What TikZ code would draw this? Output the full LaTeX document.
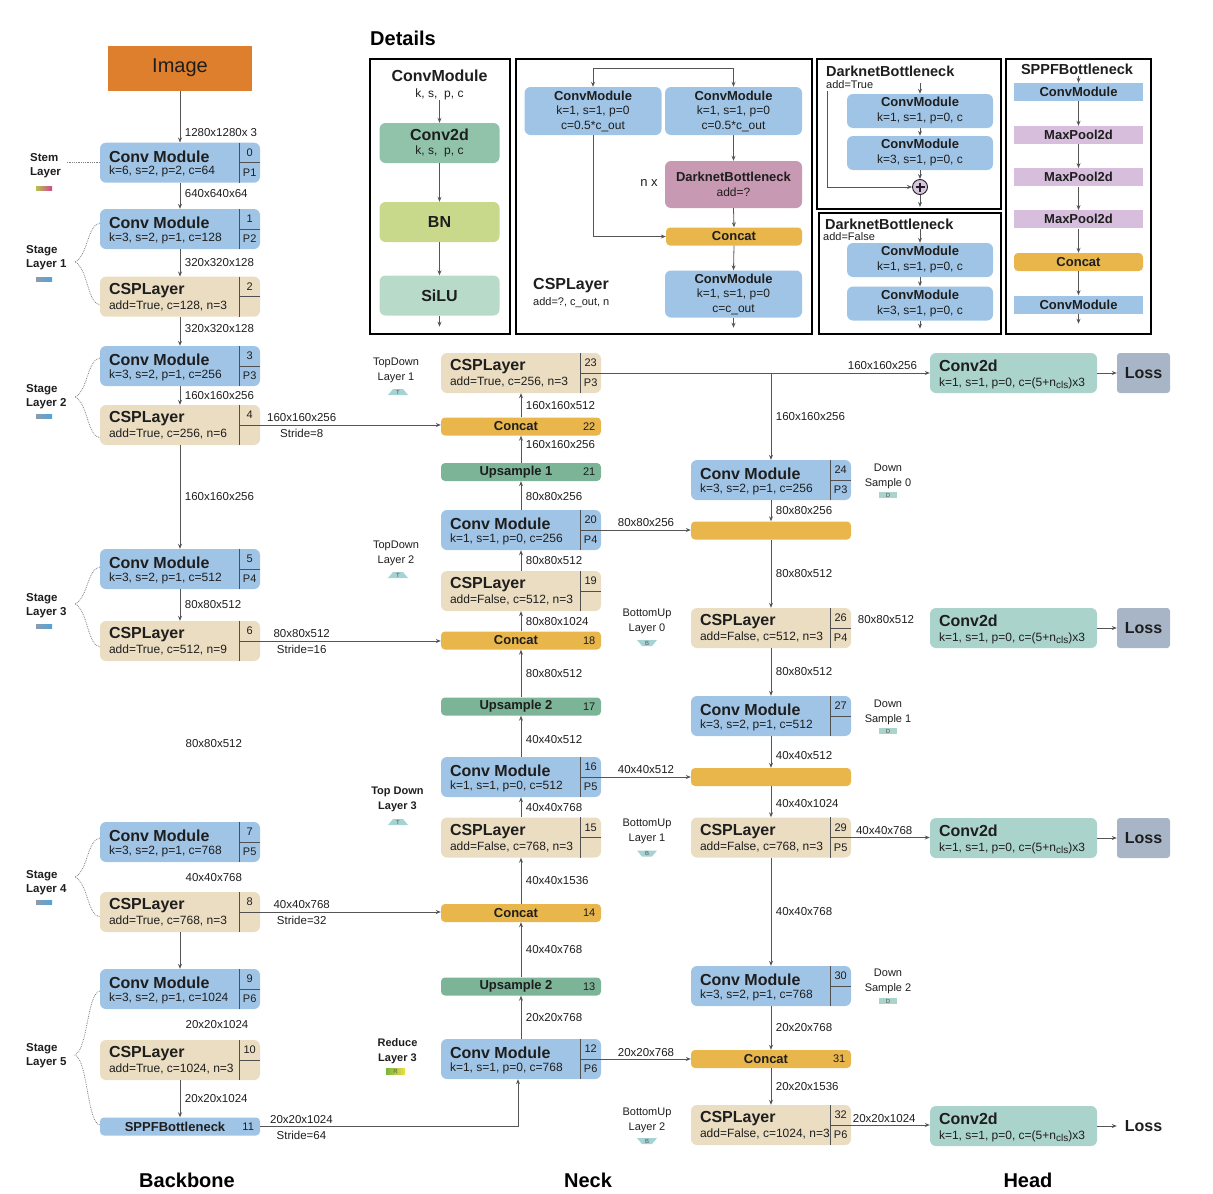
\documentclass[tikz,border=0pt]{standalone}
\usepackage{fontspec}
\setmainfont{Liberation Sans}
\usepackage{tikz}
\usetikzlibrary{positioning,calc,arrows.meta,shapes}

\definecolor{convblue}{RGB}{160,196,230}
\definecolor{cspbeige}{RGB}{235,221,193}
\definecolor{concatorange}{RGB}{233,182,76}
\definecolor{upgreen}{RGB}{124,180,152}
\definecolor{headteal}{RGB}{170,211,204}
\definecolor{lossgray}{RGB}{167,181,199}
\definecolor{imgorange}{RGB}{221,127,44}
\definecolor{dconvgreen}{RGB}{145,195,171}
\definecolor{bnyellow}{RGB}{200,217,140}
\definecolor{silugreen}{RGB}{184,218,201}
\definecolor{darkpink}{RGB}{200,153,179}
\definecolor{poolpurple}{RGB}{215,190,221}
\definecolor{pluspurple}{RGB}{216,196,224}
\definecolor{tagteal}{RGB}{165,210,210}
\definecolor{linegray}{RGB}{85,85,85}
\definecolor{cellgray}{RGB}{80,80,80}
\definecolor{txt}{RGB}{30,30,30}
\definecolor{barleft}{RGB}{140,155,175}
\definecolor{barright}{RGB}{80,165,220}
\definecolor{stemleft}{RGB}{180,195,80}
\definecolor{stemright}{RGB}{212,70,140}
\definecolor{redleft}{RGB}{120,180,60}
\definecolor{redright}{RGB}{235,225,70}

\tikzset{
  arr/.style={-{Stealth[length=5pt,width=4pt]}, line width=0.8pt, draw=linegray},
  wire/.style={line width=0.8pt, draw=linegray},
  cellline/.style={line width=0.9pt, draw=cellgray},
  blk/.style={rounded corners=6pt, minimum width=160pt, minimum height=40pt, inner sep=0pt},
  convblk/.style={blk, fill=convblue},
  cspblk/.style={blk, fill=cspbeige},
  barblk/.style={rounded corners=4pt, minimum width=160pt, minimum height=18pt, inner sep=0pt},
  headblk/.style={blk, fill=headteal, minimum width=167pt},
  lossblk/.style={rounded corners=3pt, fill=lossgray, minimum width=53pt, minimum height=40pt, inner sep=0pt, font=\bfseries\fontsize{16}{18}\selectfont, text=txt},
  imgblk/.style={fill=imgorange, minimum width=144pt, minimum height=45pt, inner sep=0pt, font=\fontsize{20}{24}\selectfont, text=txt},
  dblk/.style={rounded corners=6pt, minimum width=120pt, minimum height=40pt, inner sep=0pt},
  dmod/.style={rounded corners=6pt, fill=convblue, minimum width=137pt, minimum height=48pt, inner sep=0pt, align=center, font=\fontsize{12}{14.5}\selectfont, text=txt},
  dsmall/.style={dmod, minimum width=146pt, minimum height=34pt, font=\fontsize{12}{15}\selectfont},
  dbar/.style={rounded corners=4pt, fill=concatorange, minimum width=136pt, minimum height=18pt, inner sep=0pt, font=\bfseries\fontsize{13}{15}\selectfont, text=txt},
  spblk/.style={minimum width=129pt, minimum height=18pt, inner sep=0pt, font=\bfseries\fontsize{13}{15}\selectfont, text=txt},
  blktitle/.style={font=\bfseries\fontsize{16}{18}\selectfont, text=txt, inner sep=0pt},
  blkparam/.style={font=\fontsize{12}{14}\selectfont, text=txt, inner sep=0pt},
  blkidx/.style={font=\fontsize{11}{13}\selectfont, text=txt, inner sep=0pt},
  dimlbl/.style={font=\fontsize{11.5}{13}\selectfont, text=txt, inner sep=2.5pt},
  vlbl/.style={dimlbl, right, xshift=2pt},
  stridelbl/.style={dimlbl, below, yshift=-1.5pt},
  bartxt/.style={font=\bfseries\fontsize{13}{15}\selectfont, text=txt, inner sep=0pt},
  notetxt/.style={font=\fontsize{11}{15}\selectfont, text=txt, align=center, inner sep=0pt},
  boldnote/.style={notetxt, font=\bfseries\fontsize{11}{15}\selectfont},
  stagetxt/.style={font=\bfseries\fontsize{11.5}{14}\selectfont, text=txt, align=left, inner sep=0pt, anchor=west},
  partlbl/.style={font=\bfseries\fontsize{20}{24}\selectfont, text=black, inner sep=0pt},
  dbtitle/.style={font=\bfseries\fontsize{14.5}{16}\selectfont, text=txt, inner sep=0pt},
  detframe/.style={line width=1.6pt, draw=black},
  dotbrace/.style={densely dotted, line width=0.8pt, draw=gray},
  tagtxt/.style={font=\fontsize{6}{6}\selectfont, text=txt!75, inner sep=0pt},
}

\newcommand{\dmodttl}[1]{{\bfseries\fontsize{13}{14.5}\selectfont #1}}

% block with index column: name, x, y, style, title, params, index, level
\newcommand{\layerbox}[8]{%
  \node[#4] (#1) at (#2,#3) {};
  \draw[cellline] ([xshift=-21pt]#1.north east) -- ([xshift=-21pt]#1.south east);
  \draw[cellline] ([xshift=-21pt]#1.east) -- (#1.east);
  \node[blktitle, anchor=west] (#1-ttl) at ([xshift=9pt,yshift=6pt]#1.west) {#5};
  \node[blkparam, anchor=west] (#1-par) at ([xshift=9pt,yshift=-9pt]#1.west) {#6};
  \node[blkidx] (#1-idx) at ([xshift=-10.5pt,yshift=10pt]#1.east) {#7};
  \node[blkidx] (#1-lvl) at ([xshift=-10.5pt,yshift=-10pt]#1.east) {#8};
}
% thin bar: name, x, y, fill, text, index
\newcommand{\barbox}[6]{%
  \node[barblk, fill=#4] (#1) at (#2,#3) {};
  \node[bartxt] (#1-txt) at ([xshift=-5pt]#1.center) {#5};
  \node[blkidx] (#1-idx) at ([xshift=-12pt]#1.east) {#6};
}
% head conv: name, x, y
\newcommand{\headbox}[3]{%
  \node[headblk] (#1) at (#2,#3) {};
  \node[blktitle, anchor=west] (#1-ttl) at ([xshift=9pt,yshift=7pt]#1.west) {Conv2d};
  \node[blkparam, anchor=west] (#1-par) at ([xshift=9pt,yshift=-10pt]#1.west) {k=1, s=1, p=0, c=(5+n\raisebox{-2.5pt}{\fontsize{10}{10}\selectfont cls})x3};
}
% small markers
\newcommand{\tagT}[3]{%
  \fill[tagteal] (#2-10,#3+3) -- (#2+10,#3+3) -- (#2+5,#3-3) -- (#2-5,#3-3) -- cycle;
  \node[tagtxt] (#1) at (#2,#3) {T};
}
\newcommand{\tagB}[3]{%
  \fill[tagteal] (#2-10,#3-3) -- (#2+10,#3-3) -- (#2+5,#3+3) -- (#2-5,#3+3) -- cycle;
  \node[tagtxt] (#1) at (#2,#3) {B};
}
\newcommand{\tagD}[3]{%
  \fill[headteal] (#2-9,#3-3) rectangle (#2+9,#3+3);
  \node[tagtxt] (#1) at (#2,#3) {D};
}

\begin{document}
\begin{tikzpicture}[x=1pt,y=-1pt]
    \useasboundingbox (0,0) rectangle (1213,1194);

    % Details
    \node[partlbl, anchor=west] (details) at (370,38) {Details};
    \draw[detframe] (370,59) rectangle (510,334);
    \draw[detframe] (516,59) rectangle (812,334);
    \draw[detframe] (817,59) rectangle (1001,209);
    \draw[detframe] (819,213) rectangle (1001,334);
    \draw[detframe] (1006,59) rectangle (1151,334);

    % ConvModule detail
    \node[blktitle] (dcm-ttl) at (439.5,76) {ConvModule};
    \node[blkparam] (dcm-par) at (439.5,94) {k, s, \ p, c};
    \node[dblk, fill=dconvgreen] (dconv) at (439.5,143) {};
    \node[blktitle] (dconv-ttl) at (439.5,135) {Conv2d};
    \node[blkparam] (dconv-par) at (439.5,151) {k, s, \ p, c};
    \node[dblk, fill=bnyellow, blktitle] (dbn) at (439.5,222) {BN};
    \node[dblk, fill=silugreen, blktitle] (dsilu) at (439.5,295.5) {SiLU};
    \draw[arr] (dcm-par.south) -- (dconv.north);
    \draw[arr] (dconv.south) -- (dbn.north);
    \draw[arr] (dbn.south) -- (dsilu.north);
    \draw[arr] (dsilu.south) -- ++(0,11);

    % CSPLayer detail
    \node[dmod] (dc1) at (593,111) {\dmodttl{ConvModule}\\k=1, s=1, p=0\\c=0.5*c\_out};
    \node[dmod] (dc2) at (733.5,111) {\dmodttl{ConvModule}\\k=1, s=1, p=0\\c=0.5*c\_out};
    \node[dmod, fill=darkpink, minimum height=47pt] (ddk) at (733.5,184.5) {\dmodttl{DarknetBottleneck}\\add=?};
    \node[dbar] (dcc) at (734,236.5) {Concat};
    \node[dmod, minimum height=47pt] (dc3) at (733.5,294) {\dmodttl{ConvModule}\\k=1, s=1, p=0\\c=c\_out};
    \node[blkparam, font=\fontsize{13}{15}\selectfont] (dnx) at (649,183) {n x};
    \node[blktitle, anchor=west] (dcsp-ttl) at (533,286) {CSPLayer};
    \node[notetxt, anchor=west] (dcsp-par) at (533,303) {add=?, c\_out, n};
    \coordinate (dtopl) at (593,68);
    \coordinate (dtopr) at (733.5,68);
    \draw[wire] (dtopl) -- (dtopr);
    \draw[arr] (dtopl) -- (dc1.north);
    \draw[arr] (dtopr) -- (dc2.north);
    \draw[arr] (dc2.south) -- (ddk.north);
    \draw[arr] (ddk.south) -- (dcc.north);
    \draw[arr] (dcc.south) -- (dc3.north);
    \draw[arr] (dc1.south) |- (dcc.west);
    \draw[arr] (dc3.south) -- ++(0,10);

    % DarknetBottleneck add=True
    \node[dbtitle, anchor=west] (ddb1-ttl) at (826,71) {DarknetBottleneck};
    \node[notetxt, anchor=west] (ddb1-par) at (826,85) {add=True};
    \node[dsmall] (de1) at (920,111) {\dmodttl{ConvModule}\\k=1, s=1, p=0, c};
    \node[dsmall] (de2) at (920,153) {\dmodttl{ConvModule}\\k=3, s=1, p=0, c};
    \node[circle, draw=txt, fill=pluspurple, line width=0.9pt, minimum size=15pt, inner sep=0pt] (dplus) at (920,187) {};
    \draw[line width=1.3pt, draw=txt] ([xshift=-4.5pt]dplus.center) -- ([xshift=4.5pt]dplus.center)
        ([yshift=-4.5pt]dplus.center) -- ([yshift=4.5pt]dplus.center);
    \coordinate (dskip) at (827,91);
    \draw[arr] ([yshift=11pt]de1.north) -- (de1.north);
    \draw[arr] (de1.south) -- (de2.north);
    \draw[arr] (de2.south) -- (dplus.north);
    \draw[arr] (dskip) |- (dplus.west);
    \draw[arr] (dplus.south) -- ++(0,12);

    % DarknetBottleneck add=False
    \node[dbtitle, anchor=west] (ddb2-ttl) at (825,224) {DarknetBottleneck};
    \node[notetxt, anchor=west] (ddb2-par) at (823,237) {add=False};
    \node[dsmall] (df1) at (920,260) {\dmodttl{ConvModule}\\k=1, s=1, p=0, c};
    \node[dsmall] (df2) at (920,303.5) {\dmodttl{ConvModule}\\k=3, s=1, p=0, c};
    \draw[arr] ([yshift=14pt]df1.north) -- (df1.north);
    \draw[arr] (df1.south) -- (df2.north);
    \draw[arr] (df2.south) -- ++(0,8);

    % SPPFBottleneck
    \node[dbtitle] (dsppf-ttl) at (1077,69) {SPPFBottleneck};
    \node[spblk, fill=convblue] (sp1) at (1078.5,92) {ConvModule};
    \node[spblk, fill=poolpurple] (sp2) at (1078.5,135) {MaxPool2d};
    \node[spblk, fill=poolpurple] (sp3) at (1078.5,177.3) {MaxPool2d};
    \node[spblk, fill=poolpurple] (sp4) at (1078.5,219.3) {MaxPool2d};
    \node[spblk, fill=concatorange, rounded corners=4pt] (sp5) at (1078.5,262) {Concat};
    \node[spblk, fill=convblue] (sp6) at (1078.5,304.5) {ConvModule};
    \draw[arr] ([yshift=7pt]sp1.north) -- (sp1.north);
    \foreach \a/\b in {sp1/sp2,sp2/sp3,sp3/sp4,sp4/sp5,sp5/sp6}
        \draw[arr] (\a.south) -- (\b.north);
    \draw[arr] (sp6.south) -- ++(0,10);

    % Backbone
    \node[imgblk] (img) at (180,68) {Image};
    \layerbox{b0}{180}{162.7}{convblk}{Conv Module}{k=6, s=2, p=2, c=64}{0}{P1}
    \layerbox{b1}{180}{229}{convblk}{Conv Module}{k=3, s=2, p=1, c=128}{1}{P2}
    \layerbox{b2}{180}{296.7}{cspblk}{CSPLayer}{add=True, c=128, n=3}{2}{}
    \layerbox{b3}{180}{366}{convblk}{Conv Module}{k=3, s=2, p=1, c=256}{3}{P3}
    \layerbox{b4}{180}{425}{cspblk}{CSPLayer}{add=True, c=256, n=6}{4}{}
    \layerbox{b5}{180}{569}{convblk}{Conv Module}{k=3, s=2, p=1, c=512}{5}{P4}
    \layerbox{b6}{180}{641}{cspblk}{CSPLayer}{add=True, c=512, n=9}{6}{}
    \layerbox{b7}{180}{842}{convblk}{Conv Module}{k=3, s=2, p=1, c=768}{7}{P5}
    \layerbox{b8}{180}{912}{cspblk}{CSPLayer}{add=True, c=768, n=3}{8}{}
    \layerbox{b9}{180}{989}{convblk}{Conv Module}{k=3, s=2, p=1, c=1024}{9}{P6}
    \layerbox{b10}{180}{1060}{cspblk}{CSPLayer}{add=True, c=1024, n=3}{10}{}
    \barbox{b11}{180}{1126.5}{convblue}{SPPFBottleneck}{11}

    \draw[arr] (img.south) -- node[vlbl, pos=0.8] {1280x1280x 3} (b0.north);
    \draw[arr] (b0.south) -- node[vlbl, pos=0.4] {640x640x64} (b1.north);
    \draw[arr] (b1.south) -- node[vlbl, midway] {320x320x128} (b2.north);
    \draw[arr] (b2.south) -- node[vlbl, pos=0.4] {320x320x128} (b3.north);
    \draw[arr] (b3.south) -- node[vlbl, midway] {160x160x256} (b4.north);
    \draw[arr] (b4.south) -- node[vlbl, midway] {160x160x256} (b5.north);
    \draw[arr] (b5.south) -- node[vlbl, midway] {80x80x512} (b6.north);
    \draw[arr] (b8.south) -- (b9.north);
    \draw[arr] (b10.south) -- node[vlbl, midway] {20x20x1024} (b11.north);
    \node[dimlbl, anchor=west] (b6-out) at (183,744) {80x80x512};
    \node[dimlbl, anchor=west] (b7-out) at (183,878) {40x40x768};
    \node[dimlbl, anchor=west] (b9-out) at (183,1025) {20x20x1024};

    % Stage labels
    \node[stagetxt] (stem) at (30,166) {Stem\\Layer};
    \shade[left color=stemleft, right color=stemright] (36,186) rectangle (52,190);
    \draw[dotbrace] ([xshift=-33pt]b0.west) -- (b0.west);
    \node[stagetxt] (st1) at (26,258) {Stage\\Layer 1};
    \node[stagetxt] (st2) at (26,397) {Stage\\Layer 2};
    \node[stagetxt] (st3) at (26,605.5) {Stage\\Layer 3};
    \node[stagetxt] (st4) at (26,883) {Stage\\Layer 4};
    \node[stagetxt] (st5) at (26,1056) {Stage\\Layer 5};
    \foreach \y in {279,416,626,902}
        \shade[left color=barleft, right color=barright] (36,\y-2) rectangle (52,\y+2);
    \foreach \yt/\ym/\yb in {223/262/305, 358/397/438, 567/604/647, 838/877/917, 991/1055/1125}
        \draw[dotbrace] (100,\yt) .. controls (87,\yt+2) and (88,\ym-6) .. (75,\ym)
            .. controls (88,\ym+6) and (87,\yb-2) .. (100,\yb);

    % Neck
    \layerbox{n23}{521}{373}{cspblk}{CSPLayer}{add=True, c=256, n=3}{23}{P3}
    \barbox{n22}{521}{426.5}{concatorange}{Concat}{22}
    \barbox{n21}{521}{472}{upgreen}{Upsample 1}{21}
    \layerbox{n20}{521}{530}{convblk}{Conv Module}{k=1, s=1, p=0, c=256}{20}{P4}
    \layerbox{n19}{521}{591}{cspblk}{CSPLayer}{add=False, c=512, n=3}{19}{}
    \barbox{n18}{521}{640.5}{concatorange}{Concat}{18}
    \barbox{n17}{521}{706.5}{upgreen}{Upsample 2}{17}
    \layerbox{n16}{521}{777}{convblk}{Conv Module}{k=1, s=1, p=0, c=512}{16}{P5}
    \layerbox{n15}{521}{837.5}{cspblk}{CSPLayer}{add=False, c=768, n=3}{15}{}
    \barbox{n14}{521}{913}{concatorange}{Concat}{14}
    \barbox{n13}{521}{986.5}{upgreen}{Upsample 2}{13}
    \layerbox{n12}{521}{1059}{convblk}{Conv Module}{k=1, s=1, p=0, c=768}{12}{P6}

    \foreach \a/\b/\p/\l in {n12/n13/0.5/20x20x768, n13/n14/0.5/40x40x768, n14/n15/0.5/40x40x1536,
        n15/n16/0.5/40x40x768, n16/n17/0.41/40x40x512, n17/n18/0.5/80x80x512, n18/n19/0.5/80x80x1024,
        n19/n20/0.5/80x80x512, n20/n21/0.45/80x80x256, n21/n22/0.67/160x160x256, n22/n23/0.5/160x160x512}
        \draw[arr] (\a.north) -- node[vlbl, pos=\p] {\l} (\b.south);

    \draw[arr] (b4.east) -- node[dimlbl, above, pos=0.23] {160x160x256}
        node[stridelbl, pos=0.23] {Stride=8} (b4.east -| n22.west);
    \draw[arr] (b6.east) -- node[dimlbl, above, pos=0.23] {80x80x512}
        node[stridelbl, pos=0.23] {Stride=16} (b6.east -| n18.west);
    \draw[arr] (b8.east) -- node[dimlbl, above, pos=0.23] {40x40x768}
        node[stridelbl, pos=0.23] {Stride=32} (b8.east -| n14.west);
    \draw[arr] (b11.east) -- node[dimlbl, above, pos=0.16] {20x20x1024}
        node[stridelbl, pos=0.16] {Stride=64} ([xshift=-3pt]b11.east -| n12.south) -- ([xshift=-3pt]n12.south);

    % Neck notes
    \node[notetxt] (td1) at (396,370.5) {TopDown\\Layer 1};
    \tagT{td1-tag}{398}{392}
    \node[notetxt] (td2) at (396,553) {TopDown\\Layer 2};
    \tagT{td2-tag}{398}{575}
    \node[boldnote] (td3) at (397.5,799) {Top Down\\Layer 3};
    \tagT{td3-tag}{398}{822}
    \node[boldnote] (rd3) at (397.5,1051) {Reduce\\Layer 3};
    \shade[left color=redleft, right color=redright] (386,1068) rectangle (405,1074);
    \node[tagtxt] (rd3-tag) at (395.5,1071) {R};
    \node[notetxt] (bu0) at (647,621.5) {BottomUp\\Layer 0};
    \tagB{bu0-tag}{647}{643}
    \node[notetxt] (bu1) at (647,831.5) {BottomUp\\Layer 1};
    \tagB{bu1-tag}{647}{853.5}
    \node[notetxt] (bu2) at (647,1120.5) {BottomUp\\Layer 2};
    \tagB{bu2-tag}{647}{1141}

    % Right column
    \layerbox{h24}{771}{480}{convblk}{Conv Module}{k=3, s=2, p=1, c=256}{24}{P3}
    \barbox{h25}{771}{530.5}{concatorange}{}{}
    \layerbox{h26}{771}{628}{cspblk}{CSPLayer}{add=False, c=512, n=3}{26}{P4}
    \layerbox{h27}{771}{716}{convblk}{Conv Module}{k=3, s=2, p=1, c=512}{27}{}
    \barbox{h28}{771}{777}{concatorange}{}{}
    \layerbox{h29}{771}{837.5}{cspblk}{CSPLayer}{add=False, c=768, n=3}{29}{P5}
    \layerbox{h30}{771}{986}{convblk}{Conv Module}{k=3, s=2, p=1, c=768}{30}{}
    \barbox{h31}{771}{1059}{concatorange}{Concat}{31}
    \layerbox{h32}{771}{1125}{cspblk}{CSPLayer}{add=False, c=1024, n=3}{32}{P6}

    \foreach \a/\b/\p/\l in {h24/h25/0.5/80x80x256, h25/h26/0.5/80x80x512, h26/h27/0.5/80x80x512,
        h27/h28/0.62/40x40x512, h28/h29/0.55/40x40x1024, h29/h30/0.5/40x40x768,
        h30/h31/0.5/20x20x768, h31/h32/0.5/20x20x1536}
        \draw[arr] (\a.south) -- node[vlbl, pos=\p] {\l} (\b.north);

    \draw[arr] (n20.east) -- node[dimlbl, above, midway] {80x80x256} (n20.east -| h25.west);
    \draw[arr] (n16.east) -- node[dimlbl, above, midway] {40x40x512} (n16.east -| h28.west);
    \draw[arr] (n12.east) -- node[dimlbl, above, midway] {20x20x768} (n12.east -| h31.west);

    \node[notetxt] (dn0) at (888,476) {Down\\Sample 0};
    \tagD{dn0-tag}{888}{495}
    \node[notetxt] (dn1) at (888,712.5) {Down\\Sample 1};
    \tagD{dn1-tag}{888}{731}
    \node[notetxt] (dn2) at (888,981) {Down\\Sample 2};
    \tagD{dn2-tag}{888}{1001}

    % Head
    \headbox{g1}{1013.5}{373}
    \headbox{g2}{1013.5}{628}
    \headbox{g3}{1013.5}{838}
    \headbox{g4}{1013.5}{1126}
    \node[lossblk] (l1) at (1143.5,373) {Loss};
    \node[lossblk] (l2) at (1143.5,628) {Loss};
    \node[lossblk] (l3) at (1143.5,838) {Loss};
    \node[lossblk, fill=none] (l4) at (1143.5,1126) {Loss};
    \foreach \g/\l in {g1/l1,g2/l2,g3/l3,g4/l4}
        \draw[arr] (\g.east) -- (\l.west);

    \draw[arr] (n23.east) -- node[dimlbl, above, pos=0.856] {160x160x256} (n23.east -| g1.west);
    \coordinate (j23) at (n23.east -| h24.north);
    \draw[arr] (j23) -- node[vlbl, midway] {160x160x256} (h24.north);
    \node[dimlbl] (h26-out) at (886,620) {80x80x512};
    \draw[arr] (h29.east) -- node[dimlbl, above, pos=0.42] {40x40x768} (h29.east -| g3.west);
    \draw[arr] (h32.east) -- node[dimlbl, above, pos=0.42] {20x20x1024} (h32.east -| g4.west);

    % Part titles
    \node[partlbl] (backbone) at (187,1180) {Backbone};
    \node[partlbl] (neck) at (588,1180) {Neck};
    \node[partlbl] (head) at (1028,1180) {Head};
\end{tikzpicture}
\end{document}
